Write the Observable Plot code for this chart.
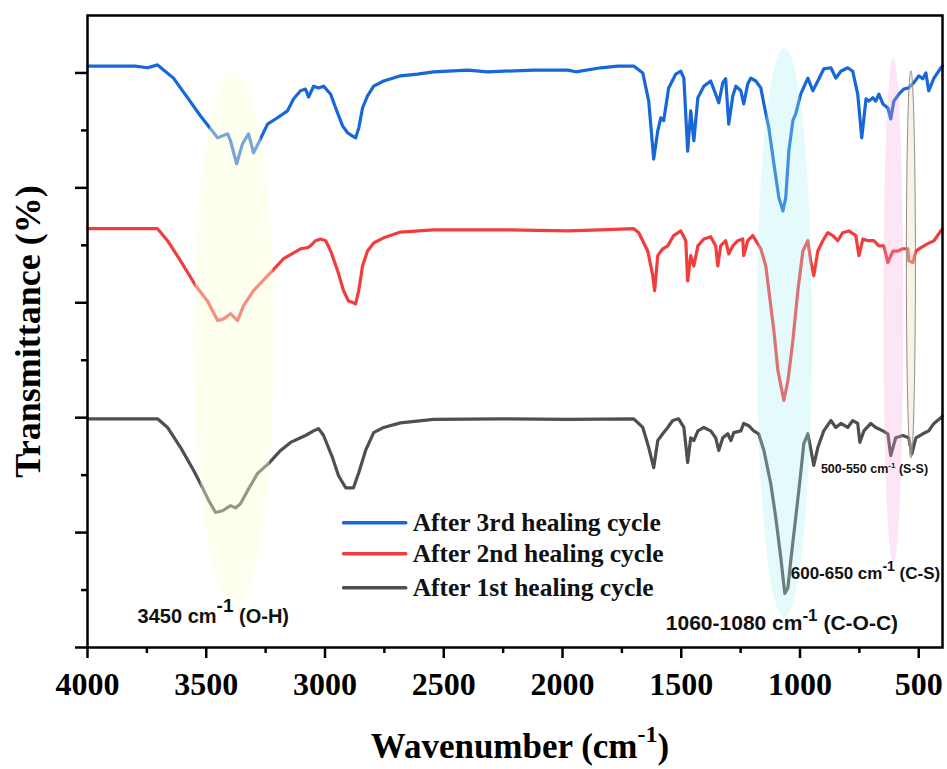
<!DOCTYPE html>
<html>
<head>
<meta charset="utf-8">
<script src="https://cdn.jsdelivr.net/npm/d3@7"></script>
<script src="https://cdn.jsdelivr.net/npm/@observablehq/plot@0.6"></script>
<style>
  html, body { margin: 0; padding: 0; background: #fff; }
</style>
</head>
<body>
<div id="chart"></div>
<script>
// ---------- data (wavenumber in cm^-1, transmittance in offset % units) ----------
const seriesNames = ["After 3rd healing cycle", "After 2nd healing cycle", "After 1st healing cycle"];
const seriesColors = ["#1767d9", "#f23d3d", "#4f4f4f"];

const wn3 = [4000,3800,3747,3705,3638,3579,3524,3482,3452,3410,
  3398,3372,3347,3322,3301,3280,3242,3200,3158,3132,
  3103,3082,3069,3048,3027,3006,2976,2955,2926,2905,
  2884,2871,2858,2842,2821,2795,2753,2682,2610,2543,
  2399,2315,2121,1978,1944,1839,1767,1700,1662,1637,
  1616,1599,1586,1574,1553,1523,1502,1489,1473,1460,
  1447,1430,1405,1376,1355,1342,1325,1313,1300,1283,
  1270,1249,1237,1220,1207,1186,1165,1152,1131,1110,
  1089,1072,1060,1047,1030,1018,997,967,946,925,
  900,870,849,828,799,778,757,740,722,710,
  693,681,668,651,630,618,605,584,563,542,
  521,500,483,470,458,436,407,400];
const t3 = [101.2,101.2,100.9,101.4,99.1,95.7,92.5,90.3,88.7,89.4,
  88.2,84.2,87.7,89.4,86.1,87.8,91.1,92.2,93.4,95.5,
  96.9,97.2,95.8,97.7,97.4,97.7,96.3,93.9,90.8,89.6,
  89.0,88.7,90.4,93.9,96.0,97.7,98.6,99.5,99.8,100.2,
  100.5,100.2,100.5,100.5,100.2,100.9,101.2,101.2,100.0,95.1,
  85.0,89.9,92.2,91.7,97.4,99.8,100.3,99.1,86.4,93.4,
  88.2,95.7,97.7,98.6,96.3,94.8,98.3,99.0,91.1,96.0,
  97.7,96.9,94.6,98.1,99.1,98.6,97.4,94.6,90.4,84.2,
  78.3,76.0,78.3,86.4,91.7,92.9,96.3,99.1,96.9,98.6,
  100.7,100.9,99.1,100.3,100.9,100.3,96.3,88.7,95.5,95.1,
  95.7,95.1,96.3,94.6,93.9,92.0,95.1,96.3,97.2,97.4,
  98.3,99.5,99.0,100.0,96.9,99.1,100.9,101.2];

const wn2 = [4000,3800,3705,3663,3608,3545,3495,3452,3427,3398,
  3368,3343,3301,3221,3174,3132,3103,3073,3061,3040,
  3019,2997,2976,2947,2922,2901,2880,2871,2858,2842,
  2821,2795,2753,2682,2543,2260,1978,1839,1700,1679,
  1641,1620,1612,1599,1578,1557,1532,1502,1481,1473,
  1460,1447,1430,1405,1376,1355,1346,1334,1313,1300,
  1283,1262,1241,1237,1220,1199,1178,1165,1144,1131,
  1110,1093,1068,1051,1030,1009,988,967,955,942,
  925,904,883,862,841,820,794,765,752,735,
  714,689,668,647,630,609,588,567,546,542,
  525,512,491,462,436,407,400];
const t2 = [72.9,72.9,72.9,70.8,67.3,63.0,60.3,56.9,57.2,58.1,
  56.9,59.5,62.1,65.6,67.7,68.7,69.4,69.6,69.9,70.8,
  71.1,70.8,69.0,65.6,62.1,60.3,60.0,59.8,62.1,66.4,
  69.0,70.4,71.3,72.3,72.7,72.7,72.5,72.7,72.9,72.2,
  69.0,64.7,62.1,68.2,69.4,69.9,71.7,72.5,70.8,63.8,
  68.2,66.4,69.9,71.1,71.5,69.9,66.4,69.9,70.8,68.5,
  69.9,70.8,71.1,68.2,70.8,71.7,70.3,69.4,66.4,62.1,
  55.1,48.2,43.0,46.4,53.4,62.1,69.0,70.8,67.3,64.7,
  69.0,70.8,72.2,71.7,70.8,72.2,72.5,71.7,68.2,71.1,
  70.8,70.8,69.9,69.9,67.0,69.0,69.0,69.4,69.4,67.3,
  67.0,69.0,69.6,70.3,70.8,72.5,72.9];

const wn1 = [4000,3800,3705,3663,3608,3553,3524,3490,3461,3431,
  3398,3377,3356,3326,3284,3238,3187,3145,3103,3082,
  3048,3027,3006,2968,2943,2913,2880,2858,2829,2795,
  2753,2682,2543,2260,1978,1700,1662,1637,1616,1599,
  1578,1557,1536,1511,1489,1473,1460,1447,1430,1405,
  1376,1355,1342,1325,1304,1291,1279,1249,1237,1216,
  1195,1174,1152,1123,1102,1081,1064,1051,1039,1018,
  997,984,967,959,942,925,900,870,849,828,
  799,778,757,748,731,702,681,651,630,618,
  597,567,542,529,512,483,458,436,407,400];
const t1 = [39.8,39.8,39.8,38.3,34.8,30.8,28.5,25.6,23.5,23.8,
  24.7,24.3,25.0,27.3,30.3,32.0,34.3,35.7,36.5,36.9,
  37.7,38.1,36.9,33.0,29.9,27.8,27.8,30.4,34.3,37.4,
  38.3,39.1,39.7,39.8,39.7,39.8,38.3,34.8,31.3,36.0,
  37.2,38.3,39.5,39.8,38.3,32.2,36.5,36.0,37.7,38.3,
  37.7,36.5,34.3,36.5,37.2,36.0,37.4,37.7,39.0,38.6,
  37.7,37.2,34.3,28.5,22.6,15.7,9.4,10.4,15.1,22.6,
  30.3,35.5,37.2,35.5,31.7,34.8,37.7,39.5,38.3,39.0,
  38.3,39.5,39.0,35.7,37.7,39.0,38.3,37.7,37.2,33.4,
  36.5,36.9,36.5,33.7,36.5,37.2,37.7,39.0,40.0,40.3];

// tick values
const xMajorTicks = [4000,3500,3000,2500,2000,1500,1000,500];
const xMinorTicks = [3750,3250,2750,2250,1750,1250,750];
const yMajorTicks = [0,20,40,60,80,100];
const yMinorTicks = [10,30,50,70,90];

// highlighted band regions (ellipses): centre / half-widths in data units
const bandCx = [3381, 1064, 605, 531];
const bandCy = [53.5, 54.7, 58.6, 66.6];
const bandRx = [168, 116, 42, 19];
const bandRy = [46.5, 49.5, 44.0, 33.7];

// annotation labels
const annotTexts = ["3450 cm^-1 (O-H)", "1060-1080 cm^-1 (C-O-C)", "600-650 cm^-1 (C-S)", "500-550 cm^-1 (S-S)"];
const annotWn = [3789, 1565, 1039, 912];
const annotT = [5.3, 4.3, 12.9, 31.0];

// ---------- build ----------
const allWn = [wn3, wn2, wn1];
const allT = [t3, t2, t1];
const rows = allWn.map((w, s) => w.map((x, i) => ({wn: x, t: allT[s][i], series: seriesNames[s]})));

const bandStyle = [
  {fill: "#ffffdc", fillOpacity: 0.42},
  {fill: "#a8f0f0", fillOpacity: 0.30},
  {fill: "#f5a0d7", fillOpacity: 0.28},
  {fill: "#efe2c4", fillOpacity: 0.40, stroke: "#8a8a8a", strokeWidth: 1}
];
function ellipsePts(k) {
  return d3.range(0, 181).map(i => {
    const a = Math.PI * i / 180;
    return {x: bandCx[k] + bandRx[k] * Math.cos(a),
            y1: bandCy[k] - bandRy[k] * Math.sin(a),
            y2: bandCy[k] + bandRy[k] * Math.sin(a)};
  });
}

const annotStyle = [
  {size: 20, sup: 19, shift: -11},
  {size: 21, sup: 17, shift: -9},
  {size: 17, sup: 14, shift: -8},
  {size: 12.5, sup: 8, shift: -5}
];
const supSpec = {};
annotTexts.forEach((t, i) => supSpec[t] = annotStyle[i]);
supSpec["Wavenumber (cm^-1)"] = {sup: 24, shift: -16};

const legendY = [21.7, 16.3, 10.4];

const serif = "'Liberation Serif', 'Times New Roman', serif";
const sans = "'Liberation Sans', Arial, sans-serif";

const marks = [];
rows.forEach((r, s) => marks.push(Plot.line(r, {x: "wn", y: "t", stroke: seriesColors[s], strokeWidth: 3.2, strokeLinejoin: "round", strokeLinecap: "round"})));
bandCx.forEach((_, k) => marks.push(Plot.area(ellipsePts(k), {x1: "x", y1: "y1", y2: "y2", ...bandStyle[k]})));
marks.push(Plot.frame({stroke: "#000", strokeWidth: 2.5}));
marks.push(Plot.axisX(xMajorTicks, {tickSize: 11, tickPadding: 14, strokeWidth: 2.5, fontSize: 32, fontWeight: "bold", fontFamily: serif, tickFormat: d => String(d), label: null}));
marks.push(Plot.axisX(xMinorTicks, {tickSize: 6, strokeWidth: 2.5, tickFormat: () => "", label: null}));
marks.push(Plot.axisY(yMajorTicks, {tickSize: 12, strokeWidth: 2.5, tickFormat: () => "", label: null}));
marks.push(Plot.axisY(yMinorTicks, {tickSize: 6, strokeWidth: 2.5, tickFormat: () => "", label: null}));
// axis titles
marks.push(Plot.text(["Transmittance (%)"], {text: d => d, frameAnchor: "left", dx: -59, rotate: -90, textAnchor: "middle", lineAnchor: "middle", fontSize: 36, fontWeight: "bold", fontFamily: serif, fill: "#000"}));
marks.push(Plot.text(["Wavenumber (cm^-1)"], {text: d => d, frameAnchor: "bottom", dx: 5, dy: 99, textAnchor: "middle", lineAnchor: "middle", fontSize: 35, fontWeight: "bold", fontFamily: serif, fill: "#000"}));
// annotations
annotTexts.forEach((t, i) => marks.push(Plot.text([t], {text: d => d, x: annotWn[i], y: annotT[i], textAnchor: "start", lineAnchor: "middle", fontSize: annotStyle[i].size, fontWeight: "bold", fontFamily: sans, fill: "#111"})));
// legend
seriesNames.forEach((n, i) => {
  marks.push(Plot.link([n], {x1: 2922, x2: 2660, y1: legendY[i], y2: legendY[i], stroke: seriesColors[i], strokeWidth: 3.5, strokeLinecap: "round"}));
  marks.push(Plot.text([n], {text: d => d, x: 2631, y: legendY[i], textAnchor: "start", lineAnchor: "middle", fontSize: 25.5, fontWeight: "bold", fontFamily: serif, fill: "#111"}));
});

const svg = Plot.plot({
  width: 947,
  height: 769,
  marginLeft: 87,
  marginRight: 5,
  marginTop: 15,
  marginBottom: 122,
  x: {domain: [4000, 400]},
  y: {domain: [0, 110]},
  style: {background: "#fff", color: "#000", fontFamily: serif},
  marks
});

// superscript "-1" handling
const NS = "http://www.w3.org/2000/svg";
svg.querySelectorAll("text").forEach(t => {
  const s = t.textContent;
  if (!s.includes("^-1")) return;
  const spec = supSpec[s] || {sup: 12, shift: -6};
  const [a, b] = s.split("^-1");
  t.textContent = "";
  const s1 = document.createElementNS(NS, "tspan"); s1.textContent = a;
  const s2 = document.createElementNS(NS, "tspan"); s2.textContent = "-1";
  s2.setAttribute("font-size", spec.sup); s2.setAttribute("dy", spec.shift);
  const s3 = document.createElementNS(NS, "tspan"); s3.textContent = b;
  s3.setAttribute("dy", -spec.shift);
  t.append(s1, s2, s3);
});

document.getElementById("chart").appendChild(svg);
</script>
</body>
</html>
